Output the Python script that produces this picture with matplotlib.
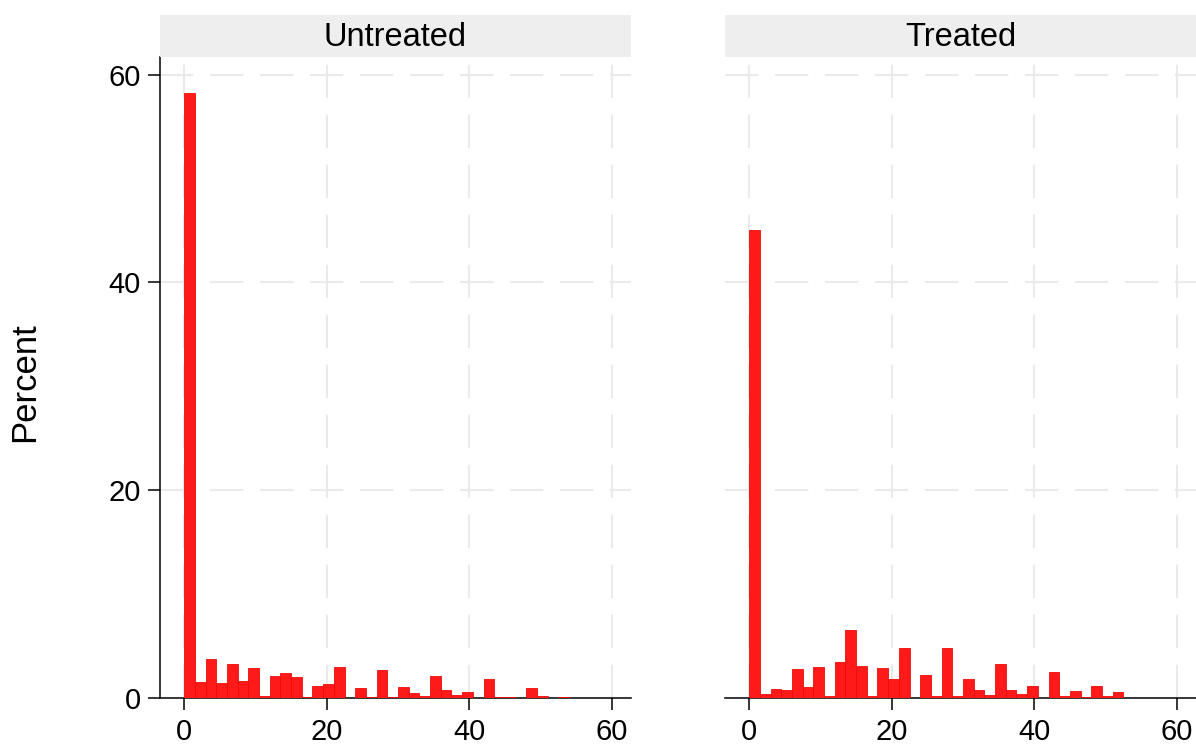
import matplotlib
matplotlib.use("Agg")
import matplotlib.pyplot as plt
import numpy as np

plt.rcParams['font.family'] = ['Liberation Sans', 'DejaVu Sans']
plt.rcParams['lines.scale_dashes'] = False

panels = ["Untreated", "Treated"]
bin_width = 1.5
untreated = [58.2, 1.55, 3.8, 1.45, 3.25, 1.6, 2.9, 0.2, 2.1, 2.4, 2.0, 0.1,
             1.2, 1.35, 2.95, 0.0, 1.0, 0.05, 2.65, 0.1, 1.05, 0.45, 0.2, 2.1,
             0.75, 0.25, 0.58, 0.0, 1.8, 0.05, 0.05, 0.0, 0.95, 0.15, 0.0, 0.05]
treated = [45.0, 0.37, 0.9, 0.74, 2.83, 1.09, 3.02, 0.23, 3.44, 6.56, 3.12, 0.23,
           2.92, 1.8, 4.79, 0.0, 2.22, 0.2, 4.79, 0.23, 1.86, 0.74, 0.32, 3.31,
           0.74, 0.39, 1.12, 0.0, 2.54, 0.23, 0.64, 0.13, 1.12, 0.23, 0.55, 0.0]
xticks = [0, 20, 40, 60]
yticks = [0, 20, 40, 60]
ylabel = "Percent"

W, H = 1196, 747
fig = plt.figure(figsize=(W / 100, H / 100), dpi=100)

def fx(px):
    return px / W

def fy(py):
    return 1 - py / H

ax_bottom, ax_top = 698, 57
lefts = [160, 725]
width_px = 471
series = [untreated, treated]
grid_col = '#EAEAEA'
dash = (0, (24, 12))

for i, (name, vals) in enumerate(zip(panels, series)):
    x0 = lefts[i]
    ax = fig.add_axes([fx(x0), fy(ax_bottom), width_px / W, (ax_bottom - ax_top) / H])
    edges = np.arange(len(vals)) * bin_width
    ax.bar(edges, vals, width=bin_width, align='edge', color='#FF1A1A',
           edgecolor='#F00A0A', linewidth=0.6, zorder=3)
    ax.set_xlim(-3.4, 62.7)
    ax.set_ylim(0, 61.7)
    ax.set_xticks(xticks)
    ax.set_yticks(yticks)
    for t in xticks:
        ax.axvline(t, color=grid_col, lw=1.5, ls=dash, zorder=1)
    for t in yticks[1:]:
        ax.axhline(t, color=grid_col, lw=1.5, ls=dash, zorder=1)
    for s in ['top', 'right']:
        ax.spines[s].set_visible(False)
    ax.spines['bottom'].set_linewidth(1.1)
    ax.spines['left'].set_linewidth(1.1)
    ax.tick_params(axis='x', length=8.6, width=1.1, labelsize=21, pad=5.5)
    ax.tick_params(axis='y', length=8.6, width=1.1, labelsize=21, pad=5)
    if i == 1:
        ax.spines['left'].set_visible(False)
        ax.tick_params(axis='y', left=False, labelleft=False)
    # strip
    strip = plt.Rectangle((fx(x0), fy(57)), width_px / W, 42 / H,
                          transform=fig.transFigure, facecolor='#EEEEEE',
                          edgecolor='none', zorder=0)
    fig.patches.append(strip)
    fig.text(fx(x0 + width_px / 2), fy(37), name, ha='center', va='center',
             fontsize=23.5)

fig.text(fx(25), fy(382), ylabel, rotation=90, ha='center', va='center', fontsize=25)

fig.savefig("out.png", dpi=100)
